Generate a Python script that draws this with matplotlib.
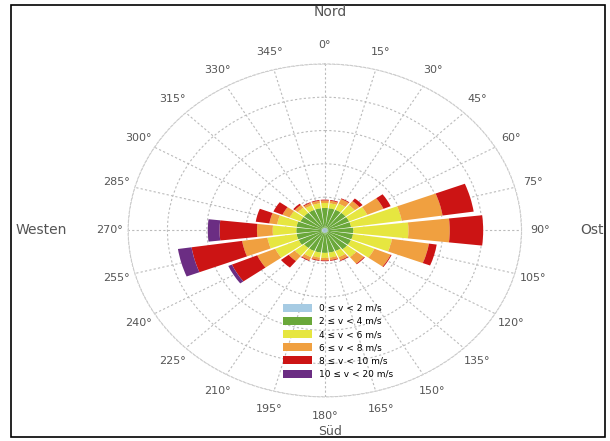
import numpy as np
import matplotlib
matplotlib.use("Agg")
import matplotlib.pyplot as plt
from matplotlib.patches import Rectangle

# Windrichtungen (Grad, im Uhrzeigersinn ab Nord)
richtung = np.arange(0, 360, 15)

# Häufigkeit je Geschwindigkeitsklasse und Richtung
v_0_2 = [1.5] * 24
v_2_4 = [12, 12, 12, 12, 12, 12, 13, 13, 13, 13, 12, 12,
         12, 12, 12, 12, 13, 13, 13, 13, 12, 12, 12, 12]
v_4_6 = [3, 3, 4, 6, 10, 26, 28, 20, 13, 6, 4, 3,
         3, 3, 4, 6, 13, 15, 12, 10, 6, 4, 3, 3]
v_6_8 = [1.5, 1.5, 3, 3, 9, 21, 21, 19, 9, 5, 2, 1.5,
         1.5, 1.5, 2, 4, 10, 13, 8, 4, 4, 2, 1.5, 1.5]
v_8_10 = [0.5, 0.5, 0.5, 2, 4, 16, 17, 4, 0.5, 0.5, 0.5, 0.5,
          0.5, 0.5, 0.5, 5, 14, 26, 19, 7, 5, 1, 0.5, 0.5]
v_10_20 = [0, 0, 0, 0, 0, 0, 0, 0, 0, 0, 0, 0,
           0, 0, 0, 0, 2, 7, 6, 0, 0, 0, 0, 0]

klassen = ["0 ≤ v < 2 m/s", "2 ≤ v < 4 m/s", "4 ≤ v < 6 m/s",
           "6 ≤ v < 8 m/s", "8 ≤ v < 10 m/s", "10 ≤ v < 20 m/s"]
farben = ["#a6cbe3", "#6aa83a", "#e6e640", "#f0a040", "#cc1414", "#6b2d83"]

fig = plt.figure(figsize=(6.10, 4.41), dpi=100)
ax = fig.add_axes([0.21, 0.1, 0.645, 0.755], projection="polar")
ax.set_aspect("auto")
ax.set_theta_zero_location("N")
ax.set_theta_direction(-1)

theta = np.deg2rad(richtung)
breite = np.deg2rad(13)
unten = np.zeros(len(richtung))
for werte, farbe, name in zip([v_0_2, v_2_4, v_4_6, v_6_8, v_8_10, v_10_20], farben, klassen):
    ax.bar(theta, werte, width=breite, bottom=unten, color=farbe,
           edgecolor="none", label=name, zorder=3)
    unten = unten + np.array(werte)

ax.set_ylim(0, 100)
ax.set_yticks([20, 40, 60, 80, 100])
ax.set_yticklabels([])
ax.set_xticks(theta)
ax.set_xticklabels([f"{d}°" for d in richtung], fontsize=8, color="#555555")
ax.tick_params(axis="x", pad=3)
ax.grid(True, color="#bbbbbb", linestyle=(0, (2, 2)), linewidth=0.8)
ax.spines["polar"].set_color("#cccccc")
ax.spines["polar"].set_linestyle((0, (2, 2)))

fig.text(0.541, 0.972, "Nord", ha="center", va="center", fontsize=10, color="#555555")
fig.text(0.541, 0.022, "Süd", ha="center", va="center", fontsize=9, color="#555555")
fig.text(0.068, 0.478, "Westen", ha="center", va="center", fontsize=10, color="#555555")
fig.text(0.952, 0.478, "Ost", ha="left", va="center", fontsize=10, color="#555555")

ax.legend(loc="upper left", bbox_to_anchor=(0.45, 0.33), bbox_transform=fig.transFigure,
          fontsize=6.5, handlelength=3.2, handleheight=1.0, labelspacing=0.45,
          frameon=False)

fig.patches.append(Rectangle((0.018, 0.01), 0.973, 0.978, transform=fig.transFigure,
                             fill=False, edgecolor="black", linewidth=1.2))

fig.savefig("out.png", dpi=100)
